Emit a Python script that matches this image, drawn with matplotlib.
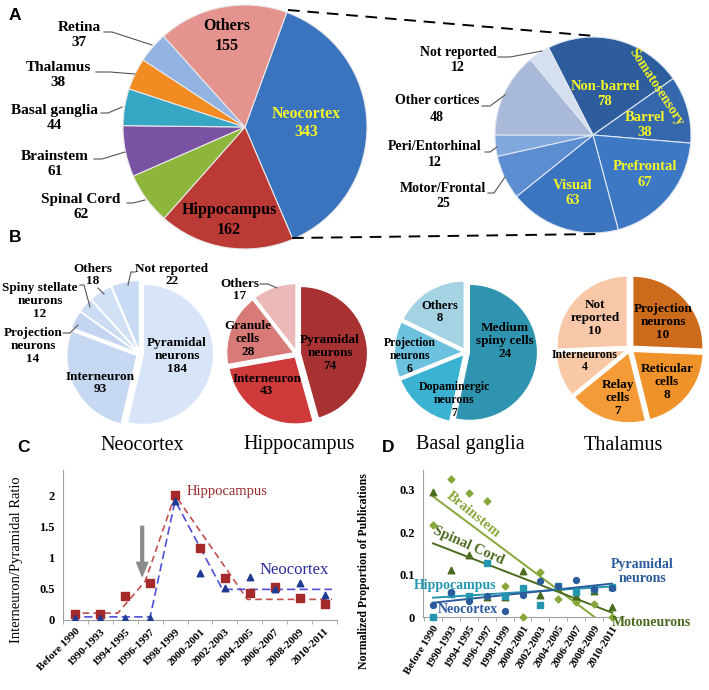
import numpy as np
import matplotlib
matplotlib.use('Agg')
import matplotlib.pyplot as plt

W, H = 709, 690
SERIF = ['Liberation Serif', 'DejaVu Serif']
SANS = ['Liberation Sans', 'DejaVu Sans']

# ---- panel A data
regions = ['Neocortex', 'Hippocampus', 'Spinal Cord', 'Brainstem', 'Basal ganglia', 'Thalamus', 'Retina', 'Others']
region_counts = [343, 162, 62, 61, 44, 38, 37, 155]
region_colors = ['#3a73be', '#bb3a35', '#8fb63c', '#7a52a3', '#35a7c4', '#f28b22', '#93b3e3', '#e4938f']

cortex_areas = ['Non-barrel', 'Barrel', 'Prefrontal', 'Visual', 'Motor/Frontal', 'Peri/Entorhinal', 'Other cortices', 'Not reported']
cortex_counts = [78, 38, 67, 63, 25, 12, 48, 12]
cortex_colors = ['#2d5d9c', '#3567ad', '#3d78c4', '#3b74bf', '#5b8dd0', '#80a8dc', '#a8bad8', '#d5dff0']

# ---- panel B data
neo_cells = ['Pyramidal\nneurons', 'Interneuron', 'Projection\nneurons', 'Spiny stellate\nneurons', 'Others', 'Not reported']
neo_counts = [184, 93, 14, 12, 18, 22]
neo_colors = ['#d8e4f7', '#c7d8f2', '#c3d5f0', '#cbdcf4', '#d0e0f5', '#c9daf4']

hip_cells = ['Pyramidal\nneurons', 'Interneuron', 'Granule\ncells', 'Others']
hip_counts = [74, 43, 28, 17]
hip_colors = ['#a83232', '#cf3b3b', '#d77a78', '#eab9b8']

bg_cells = ['Medium\nspiny cells', 'Dopaminergic\nneurons', 'Projection\nneurons', 'Others']
bg_counts = [24, 7, 6, 8]
bg_colors = ['#2f94b0', '#3cb2d3', '#6cc1de', '#a6d3e4']

thal_cells = ['Projection\nneurons', 'Reticular\ncells', 'Relay\ncells', 'Interneurons', 'Not\nreported']
thal_counts = [10, 8, 7, 4, 10]
thal_colors = ['#cd6b1c', '#f0922a', '#f49a36', '#f9c9a6', '#f8c7a8']

# ---- panel C data
periods = ['Before 1990', '1990-1993', '1994-1995', '1996-1997', '1998-1999', '2000-2001',
           '2002-2003', '2004-2005', '2006-2007', '2008-2009', '2010-2011']
hip_ratio = [0.10, 0.10, 0.39, 0.59, 2.00, 1.16, 0.67, 0.44, 0.53, 0.36, 0.26]
neo_ratio = [0.04, 0.04, 0.04, 0.04, 1.90, 0.75, 0.52, 0.69, 0.49, 0.60, 0.40]
hip_trend_x = [-0.15, 1.7, 2.8, 4.0, 6.9, 10.3]
hip_trend_y = [0.11, 0.11, 0.62, 2.0, 0.33, 0.33]
neo_trend_x = [-0.15, 3.0, 4.0, 5.9, 10.3]
neo_trend_y = [0.05, 0.05, 1.91, 0.49, 0.49]

# ---- panel D data
brainstem = [0.216, 0.324, 0.293, 0.274, 0.072, 0.0, 0.105, 0.042, 0.035, 0.030, 0.0]
spinal = [0.295, 0.110, 0.147, 0.047, 0.047, 0.108, 0.051, 0.070, 0.049, 0.061, 0.024]
d_hippo = [0.0, 0.055, 0.050, 0.126, 0.050, 0.069, 0.028, 0.072, 0.060, 0.065, 0.070]
d_neo = [0.028, 0.058, 0.038, 0.050, 0.013, 0.052, 0.085, 0.072, 0.088, 0.065, 0.068]


fig = plt.figure(figsize=(W / 100, H / 100), dpi=100)
ax = fig.add_axes([0, 0, 1, 1])


def P(x, y):
    return x, H - y


def label(x, y, s, size=10, color='black', weight='bold', family=SERIF, **kw):
    ax.text(*P(x, y), s, fontsize=size, color=color, fontweight=weight, family=family,
            ha=kw.pop('ha', 'center'), va=kw.pop('va', 'center'), linespacing=kw.pop('linespacing', 1.0), **kw)


def leader(pts, color='#555555'):
    xs = [p[0] for p in pts]
    ys = [H - p[1] for p in pts]
    ax.plot(xs, ys, color=color, lw=0.8)


def pie(counts, colors, cx, cy, r, start, expl=0.0, edge='white'):
    ax.pie(counts, colors=colors, center=P(cx, cy), radius=r, startangle=start, counterclock=False,
           explode=[expl] * len(counts), frame=True,
           wedgeprops=dict(edgecolor=edge, linewidth=0.8))


# ---------------- A
pie(region_counts, region_colors, 245, 127, 122, 70, edge='#e8e8e8')
pie(cortex_counts, cortex_colors, 593, 135, 98, 117, edge='#dfe6f2')

ax.plot(*zip(P(288, 10), P(595, 36)), color='black', lw=1.4, ls=(0, (6, 4)))
ax.plot(*zip(P(292, 238), P(600, 234)), color='black', lw=1.4, ls=(0, (6, 4)))

label(79, 35, 'Retina\n37', 11, linespacing=1.25)
leader([(104, 32), (112, 32), (152, 45)])
label(58, 75, 'Thalamus\n38', 11, linespacing=1.25)
leader([(96, 72), (110, 72), (135, 74)])
label(54, 118, 'Basal ganglia\n44', 11, linespacing=1.25)
leader([(101, 113), (108, 113), (122, 107)])
label(55, 164, 'Brainstem\n61', 11, linespacing=1.25)
leader([(94, 159), (102, 159), (125, 152)])
label(81, 207, 'Spinal Cord\n62', 11, linespacing=1.25)
leader([(127, 203), (133, 203), (145, 200)])
label(227, 36, 'Others\n155', 11.5, linespacing=1.25)
label(306, 123, 'Neocortex\n343', 11.5, color='#f5f52a', linespacing=1.25)
label(229, 220, 'Hippocampus\n162', 11.5, linespacing=1.25)

label(458, 60, 'Not reported\n12', 10, linespacing=1.2)
leader([(498, 57), (510, 57), (542, 51)])
label(437, 109, 'Other cortices\n48', 10, linespacing=1.45)
leader([(482, 106), (490, 106), (505, 95)])
label(435, 155, 'Peri/Entorhinal\n12', 10, linespacing=1.3)
leader([(485, 152), (490, 152), (497, 147)])
label(443, 196, 'Motor/Frontal\n25', 10, linespacing=1.2)
leader([(488, 193), (494, 193), (505, 177)])
label(605, 94, 'Non-barrel\n78', 10.5, color='#f5f52a', linespacing=1.2)
label(645, 125, 'Barrel\n38', 10.5, color='#f5f52a', linespacing=1.25)
label(645, 174, 'Prefrontal\n67', 10.5, color='#f5f52a', linespacing=1.3)
label(573, 193, 'Visual\n63', 10.5, color='#f5f52a', linespacing=1.25)
label(656, 87, 'Somatosensory', 10, color='#f5f52a', rotation=-57, rotation_mode='anchor')

# ---------------- B
pie(neo_counts, neo_colors, 140, 354, 70, 90, expl=3.5)
pie(hip_counts, hip_colors, 297, 354, 67, 90, expl=3.5)
pie(bg_counts, bg_colors, 466, 352, 68, 90, expl=3.5)
pie(thal_counts, thal_colors, 630, 349, 70, 90, expl=4)

label(177, 356, 'Pyramidal\nneurons\n184', 9.5, linespacing=1.1)
label(100, 383, 'Interneuron\n93', 9.5, linespacing=1.1)
label(33, 346, 'Projection\nneurons\n14', 9.5, linespacing=1.1)
leader([(63, 333), (70, 333), (78, 325)])
label(40, 301, 'Spiny stellate\nneurons\n12', 9.5, linespacing=1.1)
leader([(80, 285), (84, 285), (90, 307)])
label(93, 275, 'Others\n18', 9.5, linespacing=1.1)
leader([(98, 288), (104, 294)])
label(172, 275, 'Not reported\n22', 9.5, linespacing=1.1)
leader([(135, 272), (131, 272), (128, 285)])

label(330, 353, 'Pyramidal\nneurons\n74', 9.5, linespacing=1.1)
label(267, 385, 'Interneuron\n43', 9.5, linespacing=1.1)
label(248, 339, 'Granule\ncells\n28', 9.5, linespacing=1.1)
label(240, 290, 'Others\n17', 9.5, linespacing=1.1)
leader([(260, 284), (268, 284), (277, 288)])

label(505, 341, 'Medium\nspiny cells\n24', 9.5, linespacing=1.1)
label(440, 312, 'Others\n8', 9, linespacing=1.1)
label(410, 356, 'Projection\nneurons\n6', 8.5, linespacing=1.1)
label(454, 400, 'Dopaminergic\nneurons\n7', 8.5, linespacing=1.1)

label(595, 318, 'Not\nreported\n10', 9.5, linespacing=1.1)
label(663, 322, 'Projection\nneurons\n10', 9.5, linespacing=1.1)
label(585, 361, 'Interneurons\n4', 8.5, linespacing=1.1)
label(618, 398, 'Relay\ncells\n7', 9.5, linespacing=1.1)
label(667, 382, 'Reticular\ncells\n8', 9.5, linespacing=1.1)

for name, px in [('Neocortex', 142), ('Hippocampus', 299), ('Basal ganglia', 470), ('Thalamus', 623)]:
    label(px, 445, name, 14.5, weight='normal')

for letter, px, py in [('A', 15, 16), ('B', 15, 238), ('C', 23, 447), ('D', 388, 447)]:
    label(px, py, letter, 12.5, family=SANS)

ax.set_xlim(0, W)
ax.set_ylim(0, H)
ax.axis('off')


def style_axes(a, rot):
    for s in ['top', 'right']:
        a.spines[s].set_visible(False)
    for s in ['left', 'bottom']:
        a.spines[s].set_color('#a0a0a0')
    a.set_facecolor('none')
    a.set_xticks(np.arange(len(periods)))
    a.set_xticklabels(periods, rotation=rot, ha='right', rotation_mode='anchor',
                      fontsize=8, fontweight='bold', family=SERIF)
    a.set_xticks(np.arange(-0.5, len(periods)), minor=True)
    a.tick_params(axis='x', which='major', length=0, pad=5)
    a.tick_params(axis='x', which='minor', length=3, color='#a0a0a0')
    a.tick_params(axis='y', length=0, pad=6)
    for t in a.get_yticklabels():
        t.set_fontweight('bold')
        t.set_family(SERIF)
        t.set_fontsize(9)


# ---------------- C
x = np.arange(len(periods))
axc = fig.add_axes([63 / W, 1 - 620 / H, 274 / W, 150 / H])
axc.plot(hip_trend_x, hip_trend_y, color='#c0504d', lw=1.2, ls=(0, (4, 2.5)))
axc.plot(neo_trend_x, neo_trend_y, color='#4f4fd8', lw=1.2, ls=(0, (5, 2.5)))
axc.scatter(x, hip_ratio, marker='s', s=26, color='#a52a2a', zorder=3)
axc.scatter(x, neo_ratio, marker='^', s=22, color='#1f3a93', zorder=3)
axc.annotate('', xy=(2.68, 0.7), xytext=(2.68, 1.5),
             arrowprops=dict(color='#8c8c8c', width=2, headwidth=8, headlength=10))
axc.text(4.45, 2.05, 'Hippocampus', color='#9c2a2a', fontsize=10.5, family=SERIF, va='center')
axc.text(7.39, 0.8, 'Neocortex', color='#2a2a9c', fontsize=12, family=SERIF, va='center')
axc.set_xlim(-0.5, 10.5)
axc.set_ylim(0, 2.4)
axc.set_yticks([0, 0.5, 1, 1.5, 2])
axc.set_yticklabels(['0', '0.5', '1', '1.5', '2'])
style_axes(axc, 45)
axc.set_ylabel('Interneuron/Pyramidal Ratio', fontsize=10.5, family=SERIF)
axc.yaxis.set_label_coords(-0.145, 0.4)

# ---------------- D
axd = fig.add_axes([423 / W, 1 - 617 / H, 198 / W, 147 / H])
xs = np.linspace(0, 10, 50)
series = [(brainstem, '#86a83a', 'D', 12), (spinal, '#4b6b1e', '^', 22),
          (d_hippo, '#2596b0', 's', 16), (d_neo, '#2c5b9b', 'o', 18)]
for vals, col, mk, sz in series:
    axd.scatter(x, vals, marker=mk, s=sz, color=col, zorder=3, clip_on=False)
    k, b = np.polyfit(x, vals, 1)
    axd.plot(xs, k * xs + b, color=col, lw=1.4)
axd.text(2.23, 0.24, 'Brainstem', color='#86a83a', fontsize=10.5, fontweight='bold', family=SERIF,
         rotation=-39, ha='center', va='center', rotation_mode='anchor')
axd.text(1.96, 0.169, 'Spinal Cord', color='#4b6b1e', fontsize=10.5, fontweight='bold', family=SERIF,
         rotation=-24, ha='center', va='center', rotation_mode='anchor')
axd.text(1.23, 0.075, 'Hippocampus', color='#2596b0', fontsize=10, fontweight='bold', family=SERIF,
         ha='center', va='center')
axd.text(1.95, 0.018, 'Neocortex', color='#2c5b9b', fontsize=10, fontweight='bold', family=SERIF,
         ha='center', va='center')
axd.text(11.7, 0.108, 'Pyramidal\nneurons', color='#2c5b9b', fontsize=10, fontweight='bold', family=SERIF,
         ha='center', va='center', linespacing=1.1)
axd.text(10.0, -0.012, 'Motoneurons', color='#4b6b1e', fontsize=10, fontweight='bold', family=SERIF,
         ha='left', va='center')
axd.set_xlim(-0.56, 10.5)
axd.set_ylim(0, 0.346)
axd.set_yticks([0, 0.1, 0.2, 0.3])
axd.set_yticklabels(['0', '0.1', '0.2', '0.3'])
style_axes(axd, 58)
axd.set_ylabel('Normalized Proportion of Publications', fontsize=8.5, fontweight='bold', family=SERIF)
axd.yaxis.set_label_coords(-0.27, 0.31)

fig.savefig('out.png', dpi=100)
